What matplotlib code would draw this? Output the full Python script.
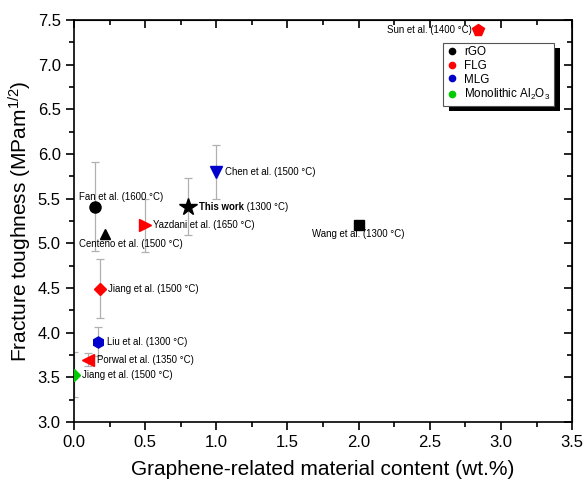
import numpy as np
import matplotlib
matplotlib.use('Agg')
import matplotlib.pyplot as plt
from matplotlib.lines import Line2D
from matplotlib.patches import Rectangle
from matplotlib.ticker import MultipleLocator

plt.rcParams['font.family'] = ['Liberation Sans', 'DejaVu Sans']
plt.rcParams['mathtext.fontset'] = 'custom'
plt.rcParams['mathtext.rm'] = 'Liberation Sans'
plt.rcParams['mathtext.it'] = 'Liberation Sans:italic'
plt.rcParams['mathtext.bf'] = 'Liberation Sans:bold'

# literature values: graphene content (wt.%) vs fracture toughness (MPa m^1/2)
names = ['Fan et al.', 'Centeno et al.', 'Yazdani et al.', 'This work', 'Chen et al.',
         'Wang et al.', 'Sun et al.', 'Jiang et al.', 'Liu et al.', 'Porwal et al.',
         'Jiang et al.']
temps = ['1600', '1500', '1650', '1300', '1500', '1300', '1400', '1500', '1300', '1350', '1500']
content = [0.15, 0.22, 0.50, 0.80, 1.00, 2.00, 2.84, 0.18, 0.17, 0.10, 0.00]
toughness = [5.41, 5.10, 5.20, 5.41, 5.80, 5.21, 7.39, 4.49, 3.90, 3.70, 3.53]
err = [0.50, 0.0, 0.30, 0.32, 0.30, 0.0, 0.0, 0.33, 0.16, 0.07, 0.25]
group = ['rGO', 'rGO', 'FLG', 'rGO', 'MLG', 'rGO', 'FLG', 'FLG', 'MLG', 'FLG', 'Monolithic']

legend_groups = ['rGO', 'FLG', 'MLG', 'Monolithic']
legend_labels = ['rGO', 'FLG', 'MLG', 'Monolithic Al$_2$O$_3$']

# styles
colors = {'rGO': 'black', 'FLG': '#ff0000', 'MLG': '#0000cc', 'Monolithic': '#00cc00'}
markers = ['o', '^', '>', '*', 'v', 's', 'p', 'D', 'h', '<', 'D']
msizes = [8, 7.5, 8, 13, 8, 7, 8.5, 6.5, 8, 8, 6.5]
# label offsets in points and alignment
offsets = [(-12, 7), (-19, -7), (6, 0), (8, 0), (6, 0), (0, -7), (-4.5, 0),
           (6, 0), (6, 0), (6, 0), (5.5, 0)]
has = ['left', 'left', 'left', 'left', 'left', 'center', 'right',
       'left', 'left', 'left', 'left']

fig = plt.figure(figsize=(5.85, 4.84), dpi=100)
ax = fig.add_axes([0.1265, 0.128, 0.8515, 0.8307])

fs = 6.9
for i in range(len(names)):
    c = colors[group[i]]
    if err[i] > 0:
        ax.errorbar(content[i], toughness[i], yerr=err[i], color='#b0b0b0', ls='',
                    elinewidth=0.9, capsize=3, capthick=0.9, zorder=2)
    ax.plot(content[i], toughness[i], marker=markers[i], color=c, ms=msizes[i],
            ls='', mec=c, zorder=3, clip_on=True)
    if names[i] == 'This work':
        t = ax.annotate(names[i], (content[i], toughness[i]), xytext=offsets[i],
                        textcoords='offset points', ha='left', va='center',
                        fontsize=fs, fontweight='bold')
        ax.annotate(' (%s °C)' % temps[i], xy=(1, 0.5), xycoords=t, ha='left',
                    va='center', fontsize=fs)
    else:
        ax.annotate('%s (%s °C)' % (names[i], temps[i]), (content[i], toughness[i]),
                    xytext=offsets[i], textcoords='offset points', ha=has[i],
                    va='center', fontsize=fs)

ax.set_xlim(0, 3.5)
ax.set_ylim(3.0, 7.5)
ax.xaxis.set_major_locator(MultipleLocator(0.5))
ax.xaxis.set_minor_locator(MultipleLocator(0.25))
ax.yaxis.set_major_locator(MultipleLocator(0.5))
ax.yaxis.set_minor_locator(MultipleLocator(0.25))
ax.xaxis.set_major_formatter(plt.FormatStrFormatter('%.1f'))
ax.yaxis.set_major_formatter(plt.FormatStrFormatter('%.1f'))
ax.tick_params(which='both', direction='out', labelsize=12, width=1.2)
ax.tick_params(which='major', length=6)
ax.tick_params(which='minor', length=3.5)
for sp in ax.spines.values():
    sp.set_linewidth(1.2)

# inward ticks on top and right
sec_x = ax.secondary_xaxis('top')
sec_x.xaxis.set_major_locator(MultipleLocator(0.5))
sec_x.xaxis.set_minor_locator(MultipleLocator(0.25))
sec_x.tick_params(which='both', direction='in', labeltop=False, width=1.2)
sec_x.tick_params(which='major', length=6)
sec_x.tick_params(which='minor', length=3.5)
sec_y = ax.secondary_yaxis('right')
sec_y.yaxis.set_major_locator(MultipleLocator(0.5))
sec_y.yaxis.set_minor_locator(MultipleLocator(0.25))
sec_y.tick_params(which='both', direction='in', labelright=False, width=1.2)
sec_y.tick_params(which='major', length=6)
sec_y.tick_params(which='minor', length=3.5)

ax.set_xlabel('Graphene-related material content (wt.%)', fontsize=15, labelpad=7)
ax.set_ylabel('Fracture toughness (MPam$^{1/2}$)', fontsize=15, labelpad=3)

handles = [Line2D([], [], marker='o', ls='', color=colors[g], ms=4.5) for g in legend_groups]
leg = ax.legend(handles, legend_labels, loc='upper left', bbox_to_anchor=(0.741, 0.944),
                fontsize=8.4, frameon=True, fancybox=False, edgecolor='#555555',
                framealpha=1, handletextpad=0.5, labelspacing=0.15,
                borderpad=0.3, handlelength=1.0, borderaxespad=0)
leg.get_frame().set_linewidth(0.8)
leg.set_zorder(7)

# black drop shadow behind the legend
fig.canvas.draw()
bb = leg.get_window_extent().transformed(fig.transFigure.inverted())
dx, dy = 6 / 585, 5 / 484
ax.add_patch(Rectangle((bb.x0 + dx, bb.y0 - dy), bb.width, bb.height,
                       transform=fig.transFigure, facecolor='black', edgecolor='none',
                       zorder=6, clip_on=False))

fig.savefig('out.png', dpi=100)
